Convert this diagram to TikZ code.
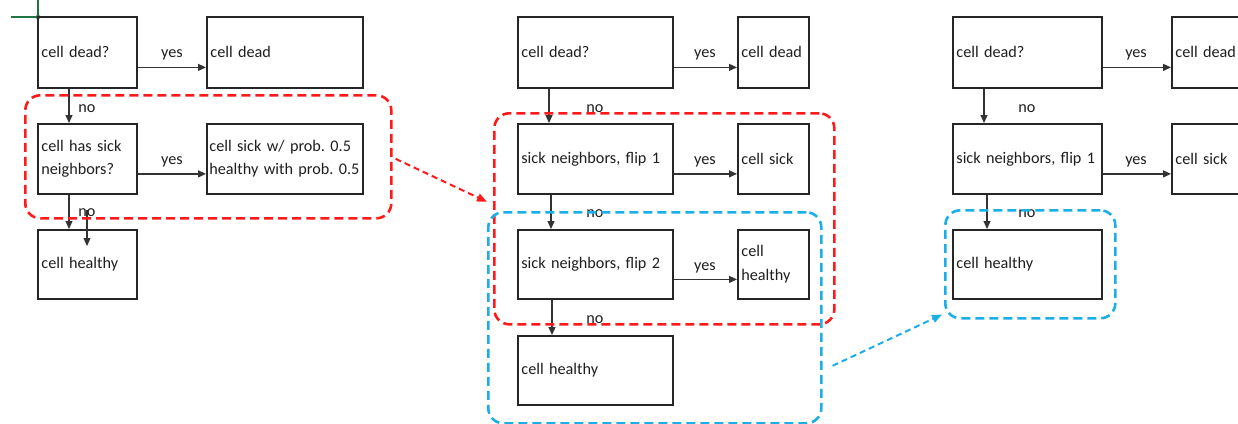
\documentclass[tikz,border=0pt]{standalone}
\usepackage{fontspec}
\setmainfont{Carlito}
\usetikzlibrary{arrows.meta,calc}
\definecolor{edge}{HTML}{262626}
\definecolor{ink}{HTML}{1E1E1E}
\definecolor{wire}{HTML}{333333}
\definecolor{grpred}{HTML}{FF1A1A}
\definecolor{grpblue}{HTML}{1CAEE8}
\definecolor{cursor}{HTML}{217346}
\begin{document}
\begin{tikzpicture}[x=1pt,y=-1pt,
  every node/.style={text=ink, font=\fontsize{16.2}{23.5}\selectfont\frenchspacing},
  box/.style={draw=edge, line width=1.8pt, anchor=north west,
              inner xsep=3.5pt, inner ysep=0pt, align=left},
  lbl/.style={inner sep=0pt, yshift=-2pt},
  arr/.style={draw=wire, line width=1.2pt, -{Triangle[length=8pt,width=7pt]}},
  group/.style={draw=#1, line width=2.6pt, dash pattern=on 9pt off 5pt,
                rounded corners=15pt, anchor=north west, inner sep=0pt},
  hint/.style={draw=#1, line width=2pt, dash pattern=on 6pt off 4pt,
               -{Triangle[length=10pt,width=8pt]}}
]
\useasboundingbox (0,0) rectangle (1238,423);
\clip (0,0) rectangle (1238,423);

% spreadsheet cell cursor
\draw[cursor, line width=1.5pt] (11,17) -- (38,17) -- (38,0);
\fill[cursor] (38,17) circle (2.2pt);

% ---- first flowchart ----
\node[box, text width=92pt,  minimum height=71pt] (a1) at (37,16)  {cell dead?};
\node[box, text width=149pt, minimum height=71pt] (b1) at (206,16) {cell dead};
\node[box, text width=92pt,  minimum height=70pt] (c1) at (37,123) {cell has sick\\neighbors?};
\node[box, inner xsep=2.5pt, text width=151pt, minimum height=70pt] (d1) at (206,123) {cell sick w/ prob. 0.5\\healthy with prob.~0.5};
\node[box, text width=92pt,  minimum height=69pt] (e1) at (37,229) {cell healthy};

\draw[arr] ([yshift=-15pt]a1.east) -- ([yshift=-15pt]b1.west);
\draw[arr] ([xshift=32pt]a1.south west) -- ([xshift=32pt]c1.north west);
\draw[arr] ([yshift=-15pt]c1.east) -- ([yshift=-15pt]d1.west);
\draw[arr] ([xshift=32pt]c1.south west) -- ([xshift=32pt]e1.north west);
\coordinate (s1) at (87,210);
\coordinate (t1) at (87,246);
\draw[arr] (s1) -- (t1);

\node[lbl] at (172,53)  {yes};
\node[lbl] at (172,160) {yes};
\node[lbl] at (87,107)  {no};
\node[lbl] at (87,211)  {no};

% ---- second flowchart ----
\node[box, text width=148pt, minimum height=71pt] (a2) at (517,16)  {cell dead?};
\node[box, text width=64pt,  minimum height=71pt] (b2) at (737,16)  {cell dead};
\node[box, text width=148pt, minimum height=70pt] (c2) at (517,123) {sick neighbors, flip 1};
\node[box, text width=64pt,  minimum height=70pt] (d2) at (737,123) {cell sick};
\node[box, text width=148pt, minimum height=69pt] (e2) at (517,229) {sick neighbors, flip 2};
\node[box, text width=64pt,  minimum height=69pt] (f2) at (737,229) {cell\\healthy};
\node[box, text width=148pt, minimum height=69pt] (g2) at (517,335) {cell healthy};

\draw[arr] ([yshift=-15pt]a2.east) -- ([yshift=-15pt]b2.west);
\draw[arr] ([xshift=32pt]a2.south west) -- ([xshift=32pt]c2.north west);
\draw[arr] ([yshift=-15pt]c2.east) -- ([yshift=-15pt]d2.west);
\draw[arr] ([xshift=34pt]c2.south west) -- ([xshift=34pt]e2.north west);
\draw[arr] ([yshift=-15pt]e2.east) -- ([yshift=-15pt]f2.west);
\draw[arr] ([xshift=35pt]e2.south west) -- ([xshift=35pt]g2.north west);

\node[lbl] at (705,53)  {yes};
\node[lbl] at (705,160) {yes};
\node[lbl] at (705,266) {yes};
\node[lbl] at (595,107) {no};
\node[lbl] at (595,212) {no};
\node[lbl] at (595,318) {no};

% ---- third flowchart ----
\node[box, text width=142pt, minimum height=71pt] (a3) at (952,16)   {cell dead?};
\node[box, text width=80pt,  minimum height=71pt] (b3) at (1171,16)  {cell dead};
\node[box, text width=142pt, minimum height=70pt] (c3) at (952,123)  {sick neighbors, flip 1};
\node[box, text width=80pt,  minimum height=70pt] (d3) at (1171,123) {cell sick};
\node[box, text width=142pt, minimum height=69pt] (e3) at (952,229)  {cell healthy};

\draw[arr] ([yshift=-15pt]a3.east) -- ([yshift=-15pt]b3.west);
\draw[arr] ([xshift=32pt]a3.south west) -- ([xshift=32pt]c3.north west);
\draw[arr] ([yshift=-15pt]c3.east) -- ([yshift=-15pt]d3.west);
\draw[arr] ([xshift=35pt]c3.south west) -- ([xshift=35pt]e3.north west);

\node[lbl] at (1136,53)  {yes};
\node[lbl] at (1136,160) {yes};
\node[lbl] at (1027,107) {no};
\node[lbl] at (1027,212) {no};

% ---- highlighted groups ----
\node[group=grpred,  minimum width=366pt, minimum height=123pt] (r1) at (24,94)   {};
\node[group=grpred,  minimum width=340pt, minimum height=211pt] (r2) at (493,112) {};
\node[group=grpblue, minimum width=333pt, minimum height=211pt] (u2) at (487,211) {};
\node[group=grpblue, minimum width=170pt, minimum height=108pt] (u3) at (944,209) {};

\draw[hint=grpred]  ([xshift=3pt,yshift=-2pt]r1.east) -- ([xshift=-6pt,yshift=17pt]r2.west);
\draw[hint=grpblue] ([xshift=10pt,yshift=-48pt]u2.east) -- ([xshift=-2pt,yshift=5pt]u3.south west);
\end{tikzpicture}
\end{document}
